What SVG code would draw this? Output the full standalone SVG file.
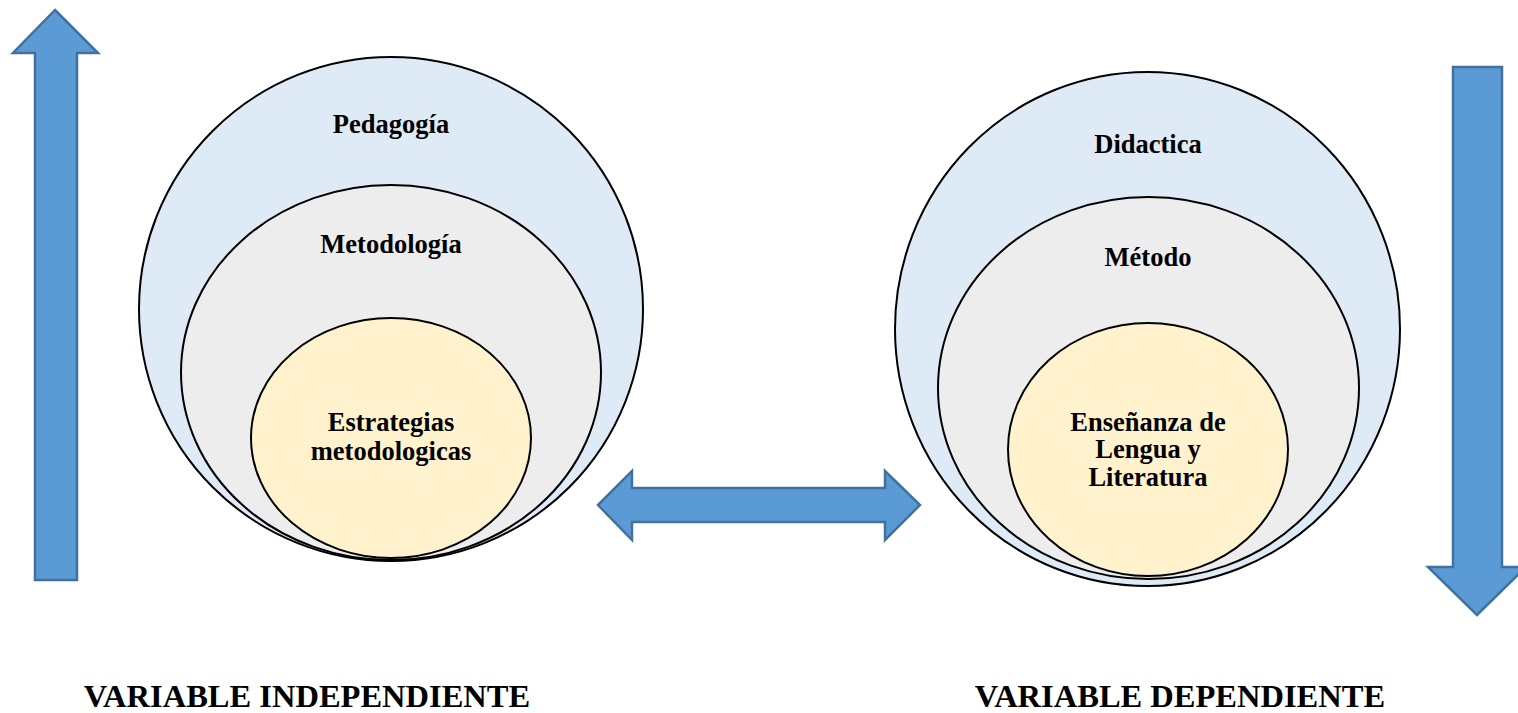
<svg xmlns="http://www.w3.org/2000/svg" width="1518" height="713" viewBox="0 0 1518 713">
<style>
.arrow{fill:#5B9BD5;stroke:#41719C;stroke-width:2.5;stroke-linejoin:miter}
.c1{fill:#DEEAF6;stroke:#000;stroke-width:2}
.c2{fill:#EDEDED;stroke:#000;stroke-width:2}
.c3{fill:#FFF2CC;stroke:#000;stroke-width:2}
text{font-family:"Liberation Serif","Times New Roman",serif;font-weight:bold;fill:#000;text-anchor:middle}
.t{font-size:26.5px}
.b{font-size:32.5px}
</style>
<rect width="1518" height="713" fill="#fff"/>
<g id="connectors">
<polygon class="arrow" points="55,10 98,53 77,53 77,580 35,580 35,53 13,53"/>
<polygon class="arrow" points="1453,67 1502,67 1502,567 1526,567 1477,615 1428,567 1453,567"/>
<polygon class="arrow" points="598,505 632,471 632,488 885,488 885,471 920,505 885,540 885,522 632,522 632,540"/>
</g>
<g id="pedagogia">
<ellipse class="c1" cx="391" cy="309" rx="252" ry="252"/>
<text class="t" x="391" y="133">Pedagogía</text>
</g>
<g id="metodologia">
<ellipse class="c2" cx="391" cy="372.5" rx="210" ry="187.5"/>
<text class="t" x="391" y="253">Metodología</text>
</g>
<g id="estrategias">
<ellipse class="c3" cx="391" cy="438" rx="140" ry="120"/>
<text class="t" x="391" y="431">Estrategias</text>
<text class="t" x="391" y="460">metodologicas</text>
</g>
<g id="didactica">
<ellipse class="c1" cx="1147.5" cy="329" rx="252.5" ry="257"/>
<text class="t" x="1148" y="153">Didactica</text>
</g>
<g id="metodo">
<ellipse class="c2" cx="1148.5" cy="388" rx="210.5" ry="191"/>
<text class="t" x="1148" y="266">Método</text>
</g>
<g id="ensenanza">
<ellipse class="c3" cx="1148" cy="449.5" rx="140" ry="126.5"/>
<text class="t" x="1148" y="431">Enseñanza de</text>
<text class="t" x="1148" y="458">Lengua y</text>
<text class="t" x="1148" y="486">Literatura</text>
</g>
<g id="labels">
<text class="b" x="307" y="707">VARIABLE INDEPENDIENTE</text>
<text class="b" x="1180" y="707">VARIABLE DEPENDIENTE</text>
</g>
</svg>
